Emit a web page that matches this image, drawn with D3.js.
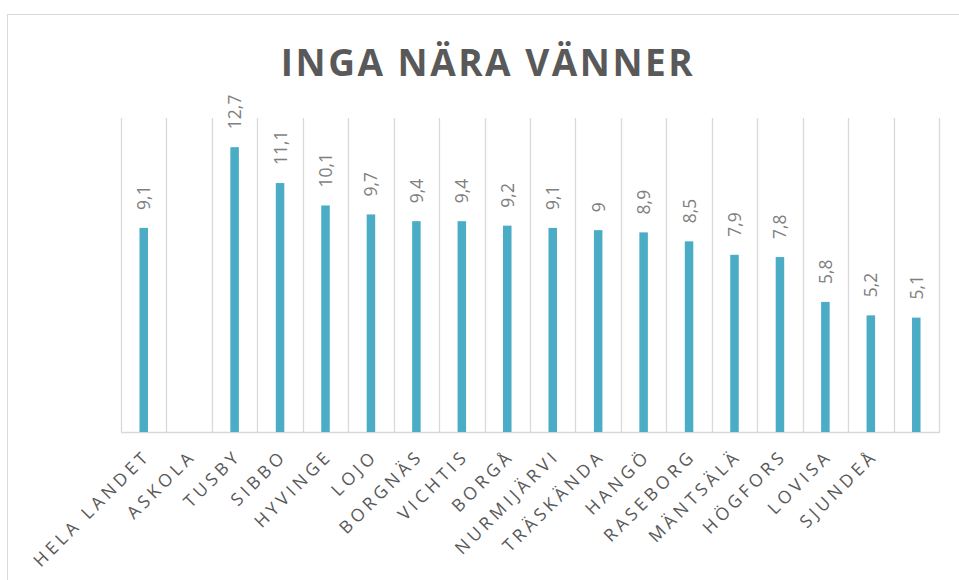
<!DOCTYPE html>
<html>
<head>
<meta charset="utf-8">
<script src="https://cdn.jsdelivr.net/npm/d3@7"></script>
<style>
	body { margin: 0; background: #fff; }
	text { font-family: "Open Sans", sans-serif; }
</style>
</head>
<body>
<script>
const categories = [
	"HELA LANDET", "ASKOLA", "TUSBY", "SIBBO", "HYVINGE", "LOJO", "BORGNÄS",
	"VICHTIS", "BORGÅ", "NURMIJÄRVI", "TRÄSKÄNDA", "HANGÖ", "RASEBORG",
	"MÄNTSÄLÄ", "HÖGFORS", "LOVISA", "SJUNDEÅ"
];
const values = [9.1, null, 12.7, 11.1, 10.1, 9.7, 9.4, 9.4, 9.2, 9.1, 9, 8.9, 8.5, 7.9, 7.8, 5.8, 5.2, 5.1];
const valueLabels = ["9,1", "", "12,7", "11,1", "10,1", "9,7", "9,4", "9,4", "9,2", "9,1", "9", "8,9", "8,5", "7,9", "7,8", "5,8", "5,2", "5,1"];

const width = 959;
const height = 580;

const svg = d3.select("body")
	.append("svg")
	.attr("width", width)
	.attr("height", height);

// chart frame
svg.append("rect")
	.attr("x", 7.5)
	.attr("y", 14.5)
	.attr("width", 960)
	.attr("height", 580)
	.attr("fill", "none")
	.attr("stroke", "#d9d9d9");

svg.append("text")
	.attr("x", 488)
	.attr("y", 76)
	.attr("text-anchor", "middle")
	.attr("fill", "#595959")
	.style("font-size", "37px")
	.style("font-weight", "bold")
	.style("letter-spacing", "2.5px")
	.text("INGA NÄRA VÄNNER");

const plotLeft = 121;
const plotRight = 939;
const plotTop = 118;
const plotBottom = 432;

// 18 slots, the chart only names the first 17
const x = d3.scaleBand()
	.domain(d3.range(values.length))
	.range([plotLeft, plotRight]);

const y = d3.scaleLinear()
	.domain([0, 14])
	.range([plotBottom, plotTop]);

// vertical gridlines between categories
const grid = svg.append("g");
grid.selectAll("line")
	.data(d3.range(values.length + 1))
	.enter()
	.append("line")
	.attr("x1", (d) => Math.round(plotLeft + d * x.step()) + 0.5)
	.attr("x2", (d) => Math.round(plotLeft + d * x.step()) + 0.5)
	.attr("y1", plotTop)
	.attr("y2", plotBottom)
	.attr("stroke", "#d9d9d9")
	.attr("stroke-width", 1.3);

svg.append("line")
	.attr("x1", plotLeft)
	.attr("x2", plotRight + 1)
	.attr("y1", plotBottom + 0.5)
	.attr("y2", plotBottom + 0.5)
	.attr("stroke", "#d9d9d9")
	.attr("stroke-width", 1.5);

const barWidth = 8.5;
const barData = values.map((v, i) => ({ v, i })).filter((d) => d.v !== null);

svg.append("g")
	.selectAll("rect")
	.data(barData)
	.enter()
	.append("rect")
	.attr("x", (d) => x(d.i) + x.bandwidth() / 2 - barWidth / 2)
	.attr("y", (d) => y(d.v))
	.attr("width", barWidth)
	.attr("height", (d) => plotBottom - y(d.v))
	.attr("fill", "#4bacc6");

svg.append("g")
	.selectAll("text")
	.data(barData)
	.enter()
	.append("text")
	.attr("transform", (d) => `translate(${x(d.i) + x.bandwidth() / 2 + 6.5}, ${y(d.v) - 18}) rotate(-90)`)
	.attr("fill", "#7f7f7f")
	.style("font-size", "17.5px")
	.text((d) => valueLabels[d.i]);

svg.append("g")
	.selectAll("text")
	.data(categories)
	.enter()
	.append("text")
	.attr("transform", (d, i) => {
		const cx = x(i) + x.bandwidth() / 2;
		return `translate(${cx + 8}, ${plotBottom + 25}) rotate(-45)`;
	})
	.attr("text-anchor", "end")
	.attr("fill", "#595959")
	.style("font-size", "17.5px")
	.style("letter-spacing", "4px")
	.text((d) => d);
</script>
</body>
</html>
